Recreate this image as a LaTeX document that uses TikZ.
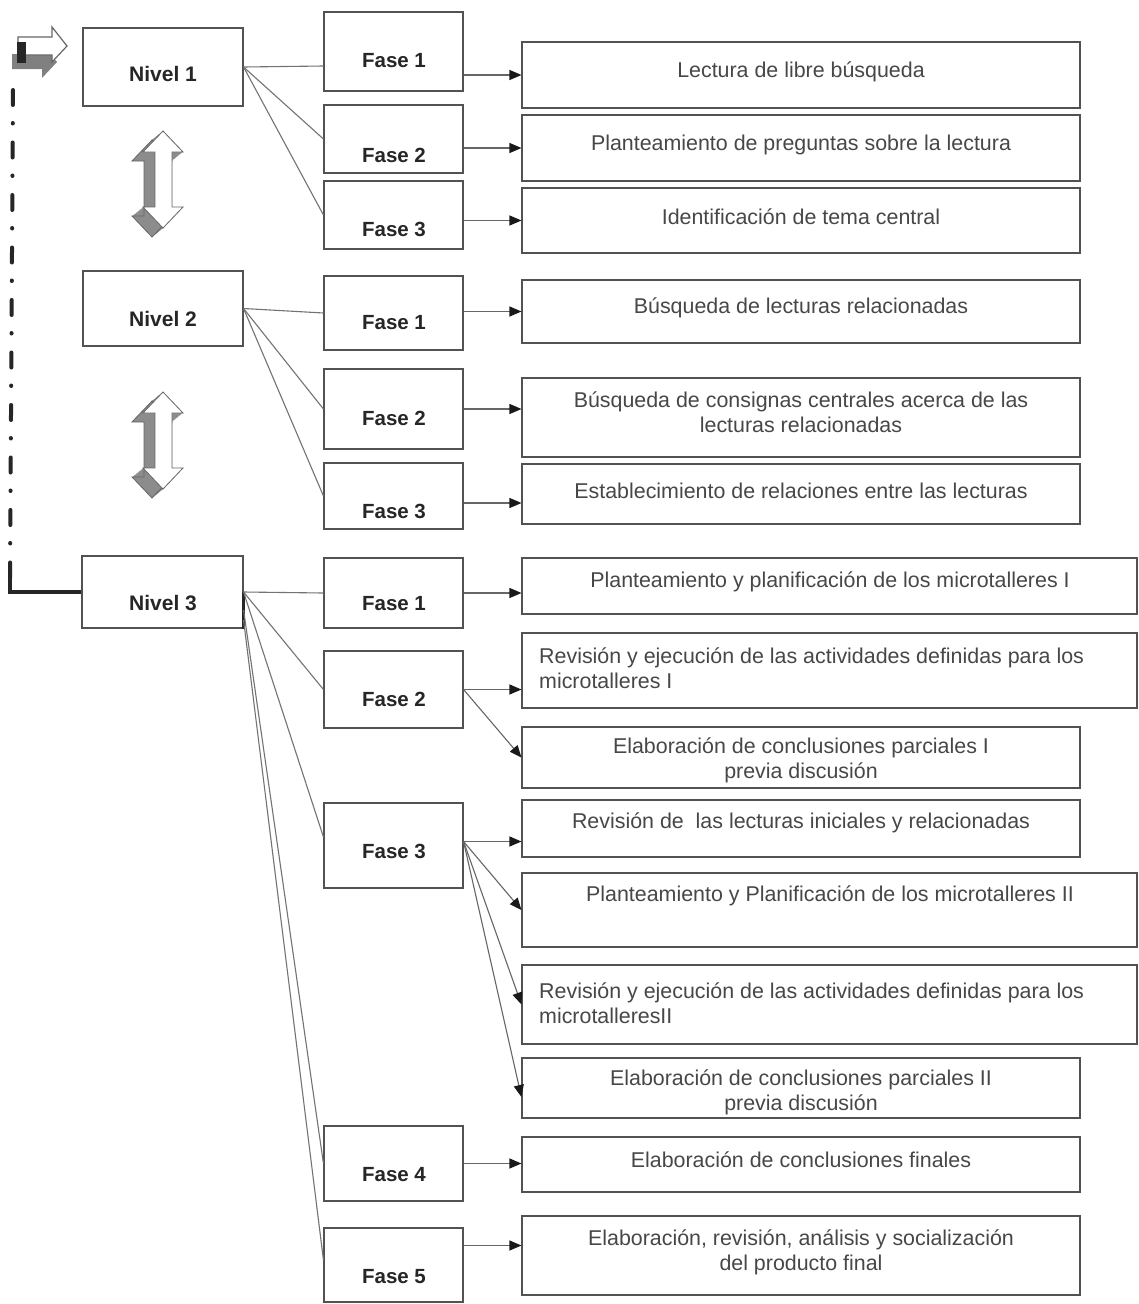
\documentclass[tikz,border=0pt]{standalone}
\usepackage{fontspec}
\setmainfont{Liberation Sans}
\usetikzlibrary{arrows.meta,calc}
% rectangle node from its corners: name, x1, y1, x2, y2
\newcommand\mkbox[5]{%
  \node[box,minimum width={#4-#2},minimum height={#5-#3}] (#1) at ({(#2+#4)/2},{(#3+#5)/2}) {};}
% extruded double-headed block arrow, shifted down by #1
\newcommand\updown[1]{%
  \begin{scope}[shift={(0,#1)}]
    \foreach \t in {0,0.05,...,1.001}{
      \fill[black!45,shift={(-11*\t,9*\t)}] (163,131) -- (183,152) -- (172,152) -- (172,207) -- (183,207) -- (163,228) -- (143,207) -- (155,207) -- (155,152) -- (143,152) -- cycle;}
    \draw[black!60,line width=0.8pt,shift={(-11,9)}] (163,131) -- (183,152) -- (172,152) -- (172,207) -- (183,207) -- (163,228) -- (143,207) -- (155,207) -- (155,152) -- (143,152) -- cycle;
    \filldraw[fill=white,draw=black!60,line width=0.8pt] (163,131) -- (183,152) -- (172,152) -- (172,207) -- (183,207) -- (163,228) -- (143,207) -- (155,207) -- (155,152) -- (143,152) -- cycle;
  \end{scope}}
\begin{document}
\begin{tikzpicture}[x=1pt,y=-1pt,
  box/.style={draw=black!68,line width=1.1pt,rectangle,inner sep=0pt},
  lvltxt/.style={font=\fontsize{21}{25}\selectfont\bfseries,text=black!85},
  fasetxt/.style={font=\fontsize{20.5}{25}\selectfont\bfseries,text=black!85},
  desctxt/.style={font=\fontsize{21.4}{25}\selectfont,text=black!72,align=center,inner sep=0pt},
  desclft/.style={font=\fontsize{21.4}{25}\selectfont,text=black!72,align=left,inner sep=0pt,anchor=west},
  link/.style={draw=black!55,line width=1.1pt},
  flow/.style={draw=black!60,line width=1.1pt,-{Triangle[length=12pt,width=10pt,color=black!90]}},
  loopline/.style={draw=black!85,line width=4pt},
]
\useasboundingbox[fill=white] (0,0) rectangle (1138,1304);

% levels
\mkbox{n1}{83}{28}{243}{106}
\mkbox{n2}{83}{271}{243}{346}
\mkbox{n3}{82}{556}{243}{628}
\node[lvltxt] (n1t) at (163,74) {Nivel 1};
\node[lvltxt] (n2t) at (163,319) {Nivel 2};
\node[lvltxt] (n3t) at (163,603) {Nivel 3};

% phases
\mkbox{f11}{324}{12}{463}{91}
\mkbox{f12}{324}{105}{463}{173}
\mkbox{f13}{324}{181}{463}{249}
\mkbox{f21}{324}{276}{463}{350}
\mkbox{f22}{324}{369}{463}{449}
\mkbox{f23}{324}{463}{463}{529}
\mkbox{f31}{324}{558}{463}{628}
\mkbox{f32}{324}{651}{463}{728}
\mkbox{f33}{324}{803}{463}{888}
\mkbox{f34}{324}{1126}{463}{1201}
\mkbox{f35}{324}{1228}{463}{1302}
\node[fasetxt] (f11t) at (394,61) {Fase 1};
\node[fasetxt] (f12t) at (394,155) {Fase 2};
\node[fasetxt] (f13t) at (394,229) {Fase 3};
\node[fasetxt] (f21t) at (394,323) {Fase 1};
\node[fasetxt] (f22t) at (394,418) {Fase 2};
\node[fasetxt] (f23t) at (394,511) {Fase 3};
\node[fasetxt] (f31t) at (394,604) {Fase 1};
\node[fasetxt] (f32t) at (394,699) {Fase 2};
\node[fasetxt] (f33t) at (394,851) {Fase 3};
\node[fasetxt] (f34t) at (394,1175) {Fase 4};
\node[fasetxt] (f35t) at (394,1277) {Fase 5};

% activities
\mkbox{d1}{522}{42}{1080}{108}
\mkbox{d2}{522}{115}{1080}{181}
\mkbox{d3}{522}{188}{1080}{253}
\mkbox{d4}{522}{280}{1080}{343}
\mkbox{d5}{522}{378}{1080}{457}
\mkbox{d6}{522}{464}{1080}{524}
\mkbox{d7}{522}{558}{1137}{614}
\mkbox{d8}{522}{633}{1137}{708}
\mkbox{d9}{522}{727}{1080}{788}
\mkbox{d10}{522}{800}{1080}{857}
\mkbox{d11}{522}{873}{1137}{947}
\mkbox{d12}{522}{965}{1137}{1044}
\mkbox{d13}{522}{1058}{1080}{1118}
\mkbox{d14}{522}{1137}{1080}{1192}
\mkbox{d15}{522}{1216}{1080}{1295}
\node[desctxt] (d1t) at (801,72) {Lectura de libre búsqueda};
\node[desctxt] (d2t) at (801,145) {Planteamiento de preguntas sobre la lectura};
\node[desctxt] (d3t) at (801,217) {Identificación de tema central};
\node[desctxt] (d4t) at (801,308) {Búsqueda de lecturas relacionadas};
\node[desctxt] (d5t) at (801,412) {Búsqueda de consignas centrales acerca de las\\lecturas relacionadas};
\node[desctxt] (d6t) at (801,491) {Establecimiento de relaciones entre las lecturas};
\node[desctxt] (d7t) at (830,582) {Planteamiento y planificación de los microtalleres I};
\node[desclft] (d8t) at (539,668) {Revisión y ejecución de las actividades definidas para los\\microtalleres I};
\node[desctxt] (d9t) at (801,760) {Elaboración de conclusiones parciales I\\previa discusión};
\node[desctxt] (d10t) at (801,823) {Revisión de\ \ las lecturas iniciales y relacionadas};
\node[desctxt] (d11t) at (830,896) {Planteamiento y Planificación de los microtalleres II};
\node[desclft] (d12t) at (539,1003) {Revisión y ejecución de las actividades definidas para los\\microtalleresII};
\node[desctxt] (d13t) at (801,1092) {Elaboración de conclusiones parciales II\\previa discusión};
\node[desctxt] (d14t) at (801,1160) {Elaboración de conclusiones finales};
\node[desctxt] (d15t) at (801,1252) {Elaboración, revisión, análisis y socialización\\del producto final};

% level -> phase links
\draw[link] (n1.east) -- ([yshift=-14.5pt]f11.west);
\draw[link] (n1.east) -- (f12.west);
\draw[link] (n1.east) -- (f13.west);
\draw[link] (n2.east) -- (f21.west);
\draw[link] (n2.east) -- (f22.west);
\draw[link] (n2.east) -- (f23.west);
\coordinate (n3a) at ([yshift=-18pt]n3.east);
\coordinate (n3b) at ([yshift=-28pt]n3.east);
\draw[black!85,line width=2.5pt] (n3.east) -- (n3.south east);
\draw[link] (n3.east) -- (f31.west);
\draw[link] (n3.east) -- (f32.west);
\draw[link] (n3.east) -- ([yshift=8.5pt]f33.west);
\draw[link] (n3a) -- (f34.west);
\draw[link] (n3b) -- ([yshift=5pt]f35.west);

% phase -> activity arrows
\draw[flow] (d1.west -| f11.east) -- (d1.west);
\draw[flow] (d2.west -| f12.east) -- (d2.west);
\draw[flow] (d3.west -| f13.east) -- (d3.west);
\draw[flow] (d4.west -| f21.east) -- (d4.west);
\draw[flow] (f22.east) -- (f22.east -| d5.west);
\coordinate (a23) at ([yshift=-7pt]f23.east);
\draw[flow] (a23) -- (a23 -| d6.west);
\draw[flow] (f31.east) -- (f31.east -| d7.west);
\draw[flow] (f32.east) -- (f32.east -| d8.west);
\draw[flow] (f32.east) -- (d9.west);
\coordinate (a33) at ([yshift=4pt]f33.east);
\draw[flow] (a33) -- (a33 -| d10.west);
\draw[flow] (a33) -- (d11.west);
\draw[flow] (a33) -- (d12.west);
\draw[flow] (a33) -- ([yshift=-9pt]d13.west);
\draw[flow] (f34.east) -- (f34.east -| d14.west);
\coordinate (a35) at ([yshift=10pt]d15.west);
\draw[flow] (a35 -| f35.east) -- (a35);

% return loop from level 3 back to level 1
\coordinate (ltop) at (13,90);
\coordinate (lbot) at (10,578);
\draw[loopline,line cap=round,dash pattern=on 15pt off 18pt on 0.5pt off 19pt] (ltop) -- (lbot);
\draw[loopline,line width=3.5pt] (lbot) |- (n3.west);
\fill[black!50] (12,54) -- (44,54) -- (44,47) -- (57,62) -- (42,78) -- (42,69) -- (12,69) -- cycle;
\filldraw[fill=white,draw=black!60,line width=1.2pt] (18,37) -- (52,37) -- (52,27) -- (67,46) -- (52,62) -- (52,55) -- (18,55) -- cycle;
\fill[black!85] (17,42) rectangle (26,63);

% level transitions
\updown{0}
\updown{261}
\end{tikzpicture}
\end{document}
